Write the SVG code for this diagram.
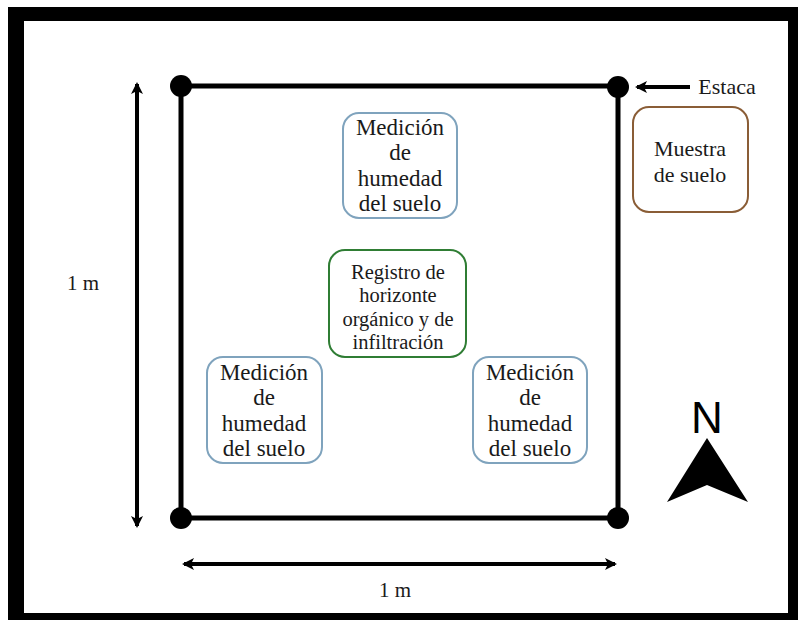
<svg xmlns="http://www.w3.org/2000/svg" width="800" height="620" viewBox="0 0 800 620">
<style>
.t{font-family:"Liberation Serif","Times New Roman",serif;fill:#1a1a1a;text-anchor:middle}
.blue{fill:#fff;stroke:#7fa3bd;stroke-width:2}
.green{fill:#fff;stroke:#2f7d34;stroke-width:2}
.brown{fill:#fff;stroke:#8a5d36;stroke-width:2}
.edge{stroke:#000;stroke-width:5;fill:none}
.dim{stroke:#000;stroke-width:4;fill:none}
</style>
<defs>
<marker id="ah" viewBox="0 0 12 12" refX="10" refY="6" markerWidth="12" markerHeight="12" markerUnits="userSpaceOnUse" orient="auto-start-reverse">
<path d="M0,0 L12,6 L0,12 L3,6 Z" fill="#000"/>
</marker>
</defs>
<rect x="0" y="0" width="800" height="620" fill="#fff"/>
<rect id="frame" x="8" y="7" width="790" height="613" fill="#000"/>
<rect x="24" y="21" width="764" height="592" fill="#fff"/>
<g id="connectors">
<path class="edge" d="M181,86 L618,86 L618,518 L181,518 Z"/>
<line class="dim" x1="137" y1="84" x2="137" y2="526" marker-start="url(#ah)" marker-end="url(#ah)"/>
<line class="dim" x1="184" y1="564" x2="615" y2="564" marker-start="url(#ah)" marker-end="url(#ah)"/>
<line class="dim" x1="690" y1="87" x2="637" y2="87" stroke-width="3" marker-end="url(#ah)"/>
</g>
<g id="stakes" fill="#000">
<circle cx="181" cy="86" r="11"/>
<circle cx="618" cy="87" r="11"/>
<circle cx="181" cy="518" r="11"/>
<circle cx="618" cy="518" r="11"/>
</g>
<g id="label-estaca"><text class="t" x="727" y="94" font-size="22">Estaca</text></g>
<g id="label-1m-left"><text class="t" x="83" y="290" font-size="21">1 m</text></g>
<g id="label-1m-bottom"><text class="t" x="395" y="597" font-size="21">1 m</text></g>
<g id="node-muestra">
<rect class="brown" x="633" y="107" width="115" height="105" rx="16"/>
<text class="t" x="690" y="156" font-size="22">Muestra</text>
<text class="t" x="690" y="182" font-size="22">de suelo</text>
</g>
<g id="node-humedad-top">
<rect class="blue" x="343" y="113" width="114" height="105" rx="16"/>
<text class="t" x="400" y="135" font-size="23">Medición</text>
<text class="t" x="400" y="160" font-size="23">de</text>
<text class="t" x="400" y="186" font-size="23">humedad</text>
<text class="t" x="400" y="211" font-size="23">del suelo</text>
</g>
<g id="node-registro">
<rect class="green" x="329" y="250" width="137" height="107" rx="16"/>
<text class="t" x="398" y="279" font-size="20.5">Registro de</text>
<text class="t" x="398" y="302" font-size="20.5">horizonte</text>
<text class="t" x="398" y="326" font-size="20.5">orgánico y de</text>
<text class="t" x="398" y="349" font-size="20.5">infiltración</text>
</g>
<g id="node-humedad-left">
<rect class="blue" x="207" y="357" width="115" height="106" rx="16"/>
<text class="t" x="264" y="380" font-size="23">Medición</text>
<text class="t" x="264" y="405" font-size="23">de</text>
<text class="t" x="264" y="431" font-size="23">humedad</text>
<text class="t" x="264" y="456" font-size="23">del suelo</text>
</g>
<g id="node-humedad-right">
<rect class="blue" x="473" y="357" width="114" height="106" rx="16"/>
<text class="t" x="530" y="380" font-size="23">Medición</text>
<text class="t" x="530" y="405" font-size="23">de</text>
<text class="t" x="530" y="431" font-size="23">humedad</text>
<text class="t" x="530" y="456" font-size="23">del suelo</text>
</g>
<g id="north">
<text x="707" y="433" font-family="Liberation Sans, Arial, sans-serif" font-size="44" text-anchor="middle" fill="#000">N</text>
<polygon points="707,438 748,502 707,485 667,502" fill="#000"/>
</g>
</svg>
